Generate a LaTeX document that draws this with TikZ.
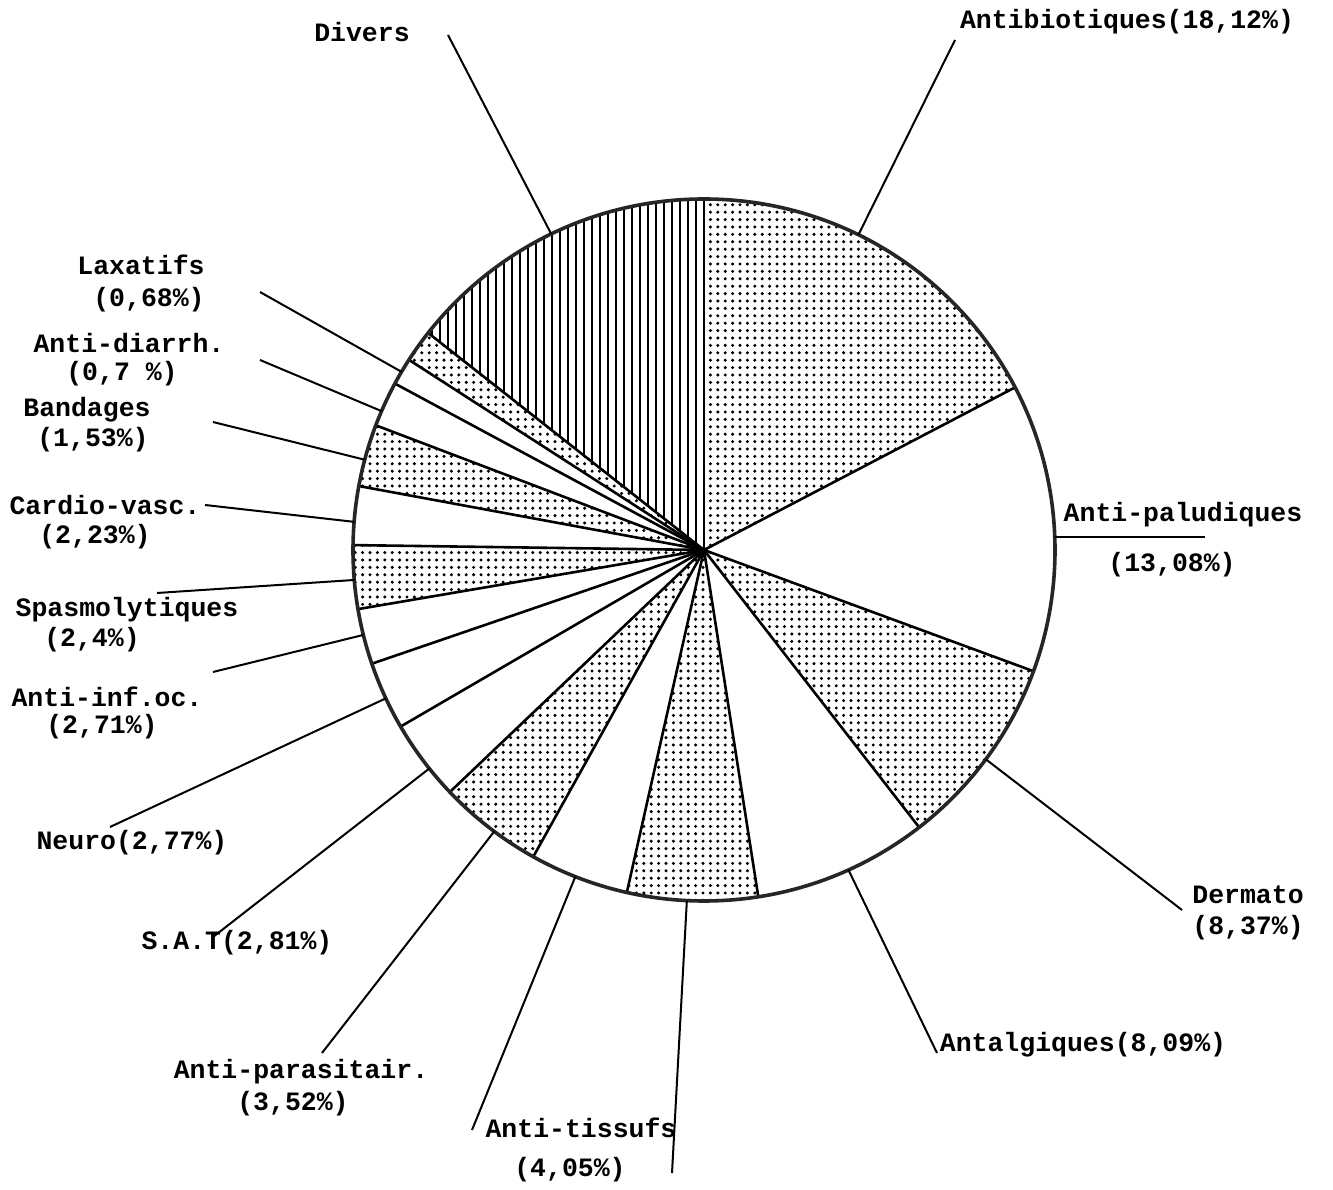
\documentclass[tikz,border=0pt]{standalone}
\usepackage{fontspec}
\setmonofont{Liberation Mono}
\usetikzlibrary{patterns,calc}
\pgfdeclarepatternformonly{tdots}{\pgfqpoint{-1pt}{-1pt}}{\pgfqpoint{1pt}{1pt}}{\pgfqpoint{3.7pt}{3.7pt}}{\pgfpathcircle{\pgfpointorigin}{0.85pt}\pgfusepath{fill}}
\pgfdeclarepatternformonly{tvlines}{\pgfqpoint{-0.6pt}{0pt}}{\pgfqpoint{0.6pt}{4pt}}{\pgfqpoint{4pt}{4pt}}{\pgfsetlinewidth{0.9pt}\pgfpathmoveto{\pgfqpoint{0pt}{0pt}}\pgfpathlineto{\pgfqpoint{0pt}{4pt}}\pgfusepath{stroke}}
\newcommand\pieslice[3]{\fill[#1] (O) -- ($(O)+(#2:175.5pt)$) arc[start angle=#2, end angle=#3, radius=175.5pt] -- cycle;}
\tikzset{
  lbl/.style={font=\ttfamily\bfseries\fontsize{13.25pt}{15pt}\selectfont, inner sep=0pt, anchor=center},
  leader/.style={line width=1pt, black},
  radiusline/.style={line width=1.3pt, black},
  rim/.style={line width=1.8pt, black!85},
}
\begin{document}
\begin{tikzpicture}[x=0.5pt,y=0.5pt]
\useasboundingbox (0,0) rectangle (1333,1189);
\fill[white] (0,0) rectangle (1333,1189);
\coordinate (O) at (704,639);

% sectors
\pieslice{pattern=tvlines}{90}{141.8}
\pieslice{pattern=tdots}{141.8}{147.2}
\pieslice{pattern=tdots}{159.2}{169.5}
\pieslice{pattern=tdots}{179.2}{189.7}
\pieslice{pattern=tdots}{223.6}{240.9}
\pieslice{pattern=tdots}{257.3}{278.9}
\pieslice{pattern=tdots}{307.8}{339.8}
\pieslice{pattern=tdots}{27.6}{90}

\foreach \a in {90,141.8,147.2,151.7,159.2,169.5,179.2,189.7,198.9,210.2,223.6,240.9,257.3,278.9,307.8,339.8,27.6}
  \draw[radiusline] (O) -- ($(O)+(\a:175.5pt)$);
\draw[rim] (O) circle[radius=175.5pt];

% rim points of leaders
\coordinate (rDiv) at ($(O)+(115.8:175.5pt)$);
\coordinate (rAbt) at ($(O)+(63.9:175.5pt)$);
\coordinate (rPal) at ($(O)+(2.1:175.5pt)$);
\coordinate (rDer) at ($(O)+(323.4:175.5pt)$);
\coordinate (rAlg) at ($(O)+(294.3:175.5pt)$);
\coordinate (rTsv) at ($(O)+(267.2:175.5pt)$);
\coordinate (rTss) at ($(O)+(248.5:175.5pt)$);
\coordinate (rPar) at ($(O)+(233.3:175.5pt)$);
\coordinate (rSAT) at ($(O)+(218.5:175.5pt)$);
\coordinate (rNeu) at ($(O)+(205:175.5pt)$);
\coordinate (rInf) at ($(O)+(194:175.5pt)$);
\coordinate (rSpa) at ($(O)+(184.9:175.5pt)$);
\coordinate (rCar) at ($(O)+(175.4:175.5pt)$);
\coordinate (rBan) at ($(O)+(165.1:175.5pt)$);
\coordinate (rDia) at ($(O)+(156.7:175.5pt)$);
\coordinate (rLax) at ($(O)+(149.5:175.5pt)$);

% free ends of leaders
\coordinate (eDiv) at (448,1154);
\coordinate (eAbt) at (955,1149);
\coordinate (ePal) at (1205,652);
\coordinate (eDer) at (1182,279);
\coordinate (eAlg) at (937,136);
\coordinate (eTsv) at (672,16);
\coordinate (eTss) at (472,59);
\coordinate (ePar) at (322,136);
\coordinate (eSAT) at (213,252);
\coordinate (eNeu) at (110,362);
\coordinate (eInf) at (213,517);
\coordinate (eSpa) at (157,596);
\coordinate (eCar) at (205,684);
\coordinate (eBan) at (213,767);
\coordinate (eDia) at (260,829);
\coordinate (eLax) at (260,897);

\foreach \n in {Div,Abt,Der,Alg,Tsv,Tss,Par,SAT,Neu,Inf,Spa,Car,Ban,Dia,Lax}
  \draw[leader] (r\n) -- (e\n);
\draw[leader] (rPal) -- (rPal -| ePal);

% labels
\node[lbl] (lDiv) at (362,1157) {Divers};
\node[lbl] (lAbt) at (1127,1167) {Antibiotiques(18,12\%)};
\node[lbl] (lPal) at (1183,674) {Anti-paludiques};
\node[lbl] (lPalp) at (1172,624) {(13,08\%)};
\node[lbl] (lDer) at (1248,294) {Dermato};
\node[lbl] (lDerp) at (1248,261) {(8,37\%)};
\node[lbl] (lAlg) at (1083,144) {Antalgiques(8,09\%)};
\node[lbl] (lTss) at (581,61) {Anti-tissufs};
\node[lbl] (lTssp) at (570,19) {(4,05\%)};
\node[lbl] (lPar) at (301,117) {Anti-parasitair.};
\node[lbl] (lParp) at (293,85) {(3,52\%)};
\node[lbl] (lSAT) at (237,246) {S.A.T(2,81\%)};
\node[lbl] (lNeu) at (132,346) {Neuro(2,77\%)};
\node[lbl] (lInf) at (107,492) {Anti-inf.oc.};
\node[lbl] (lInfp) at (102,462) {(2,71\%)};
\node[lbl] (lSpa) at (127,579) {Spasmolytiques};
\node[lbl] (lSpap) at (92,549) {(2,4\%)};
\node[lbl] (lCar) at (105,684) {Cardio-vasc.};
\node[lbl] (lCarp) at (95,652) {(2,23\%)};
\node[lbl] (lBan) at (87,779) {Bandages};
\node[lbl] (lBanp) at (93,749) {(1,53\%)};
\node[lbl] (lDia) at (129,846) {Anti-diarrh.};
\node[lbl] (lDiap) at (122,815) {(0,7 \%)};
\node[lbl] (lLax) at (141,924) {Laxatifs};
\node[lbl] (lLaxp) at (149,889) {(0,68\%)};
\end{tikzpicture}
\end{document}
